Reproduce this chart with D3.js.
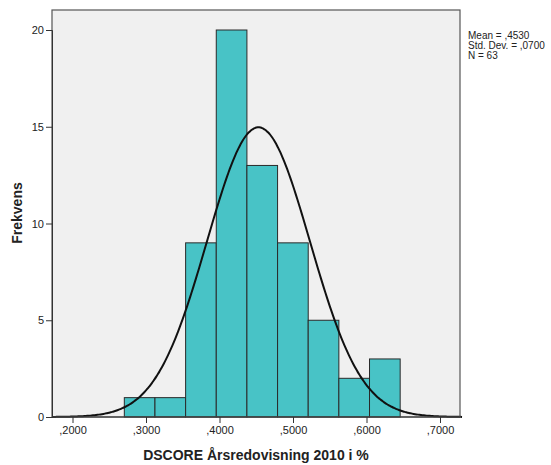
<!DOCTYPE html>
<html>
<head>
<meta charset="utf-8">
<script src="https://cdn.jsdelivr.net/npm/d3@7"></script>
<style>
  body { margin: 0; background: #fff; }
  text { font-family: Arial, "Liberation Sans", sans-serif; }
</style>
</head>
<body>
<svg id="chart" width="551" height="465"></svg>
<script>
// histogram bins (lower edge, upper edge) and counts
const binEdges = [0.2705, 0.3122, 0.3539, 0.3956, 0.4373, 0.4790, 0.5207, 0.5624, 0.6041, 0.6458]
const counts = [1, 1, 9, 20, 13, 9, 5, 2, 3]
const xTicks = [0.2, 0.3, 0.4, 0.5, 0.6, 0.7]
const yTicks = [0, 5, 10, 15, 20]
const mean = 0.4530, sd = 0.0700, n = 63
const statLines = ["Mean = ,4530", "Std. Dev. = ,0700", "N = 63"]

const svg = d3.select("#chart")
const pLeft = 52, pRight = 460, pTop = 10, pBottom = 417

// 0.2 at 72.5 px, 0.7 at 440 px
const x = d3.scaleLinear().domain([0.2, 0.7]).range([72.5, 440])
const y = d3.scaleLinear().domain([0, 20]).range([pBottom, 30])

svg.append("rect")
  .attr("x", pLeft).attr("y", pTop)
  .attr("width", pRight - pLeft).attr("height", pBottom - pTop)
  .attr("fill", "#f0f0f0")

const bars = counts.map((c, i) => ({ x0: binEdges[i], x1: binEdges[i + 1], c }))
svg.append("g").selectAll("rect").data(bars).join("rect")
  .attr("x", d => x(d.x0))
  .attr("y", d => y(d.c))
  .attr("width", d => x(d.x1) - x(d.x0))
  .attr("height", d => y(0) - y(d.c))
  .attr("fill", "#48c3c6")
  .attr("stroke", "#2a2a2a")
  .attr("stroke-width", 1)

// normal curve scaled to histogram
const bw = binEdges[1] - binEdges[0]
const curve = d3.range(0.172, 0.7305, 0.002).map(v => [v, n * bw * Math.exp(-0.5 * ((v - mean) / sd) ** 2) / (sd * Math.sqrt(2 * Math.PI))])
svg.append("path")
  .datum(curve)
  .attr("d", d3.line().x(d => x(d[0])).y(d => y(d[1])).curve(d3.curveBasis))
  .attr("fill", "none")
  .attr("stroke", "#111")
  .attr("stroke-width", 2)

// frame
svg.append("rect")
  .attr("x", pLeft).attr("y", pTop)
  .attr("width", pRight - pLeft).attr("height", pBottom - pTop)
  .attr("fill", "none")
  .attr("stroke", "#555")
  .attr("stroke-width", 1.2)

// axes
const yAxis = d3.axisLeft(y).tickValues(yTicks).tickSize(6).tickPadding(2)
svg.append("g").attr("transform", `translate(${pLeft},0)`).call(yAxis)
  .call(g => g.select(".domain").attr("stroke", "#333"))
  .call(g => g.selectAll(".tick line").attr("stroke", "#333"))
  .call(g => g.selectAll("text").attr("font-size", 11).attr("fill", "#222").attr("font-family", "Arial, 'Liberation Sans', sans-serif"))

const xAxis = d3.axisBottom(x).tickValues(xTicks).tickSize(6).tickPadding(3)
  .tickFormat(d => "," + d3.format(".4f")(d).slice(2))
svg.append("g").attr("transform", `translate(0,${pBottom})`).call(xAxis)
  .call(g => g.select(".domain").remove())
  .call(g => g.selectAll(".tick line").attr("stroke", "#333"))
  .call(g => g.selectAll("text").attr("font-size", 11).attr("fill", "#222").attr("font-family", "Arial, 'Liberation Sans', sans-serif"))

svg.append("line")
  .attr("x1", pLeft).attr("x2", pRight).attr("y1", pBottom).attr("y2", pBottom)
  .attr("stroke", "#333").attr("stroke-width", 1.2)

// titles
svg.append("text")
  .attr("x", 256).attr("y", 460)
  .attr("text-anchor", "middle")
  .attr("font-size", 14).attr("font-weight", "bold").attr("fill", "#222")
  .text("DSCORE Årsredovisning 2010 i %")

svg.append("text")
  .attr("transform", "translate(22,213) rotate(-90)")
  .attr("text-anchor", "middle")
  .attr("font-size", 14).attr("font-weight", "bold").attr("fill", "#222")
  .text("Frekvens")

// stats box
svg.append("g").selectAll("text").data(statLines).join("text")
  .attr("x", 468)
  .attr("y", (d, i) => 39 + i * 10)
  .attr("font-size", 10).attr("fill", "#222")
  .text(d => d)
</script>
</body>
</html>
